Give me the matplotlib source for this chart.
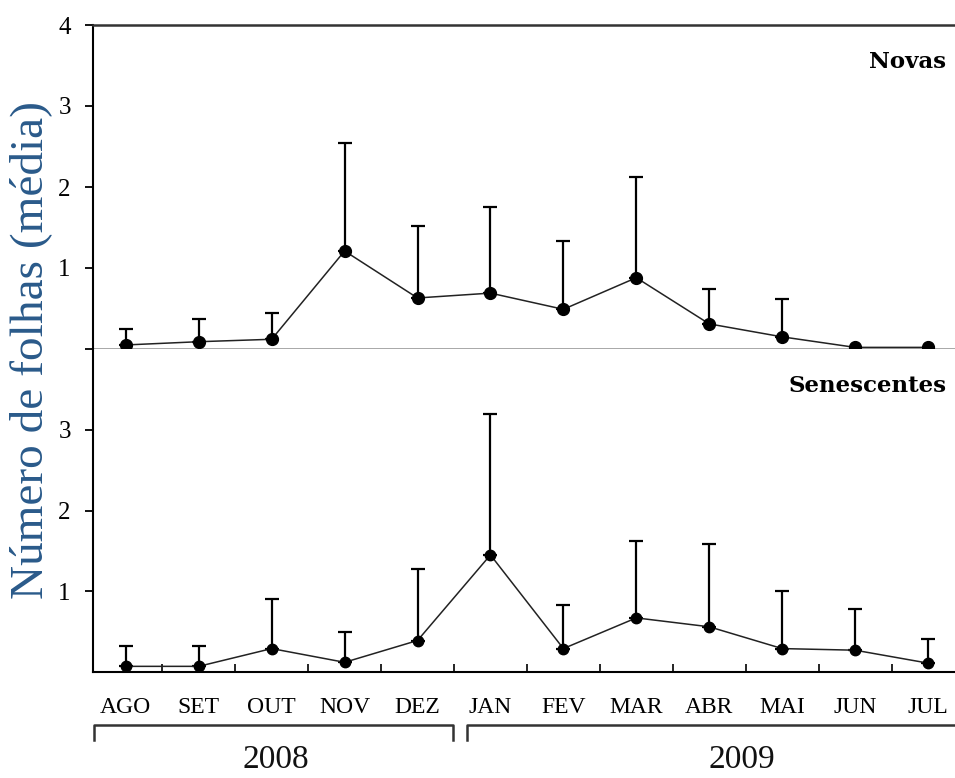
import matplotlib
matplotlib.use("Agg")
import matplotlib.pyplot as plt
import matplotlib.transforms as mtransforms
import numpy as np

months = ["AGO", "SET", "OUT", "NOV", "DEZ", "JAN", "FEV", "MAR", "ABR", "MAI", "JUN", "JUL"]
novas_mean = [0.05, 0.09, 0.12, 1.21, 0.63, 0.69, 0.49, 0.88, 0.31, 0.15, 0.02, 0.02]
novas_top = [0.25, 0.37, 0.44, 2.54, 1.52, 1.75, 1.33, 2.12, 0.74, 0.62, None, None]
sen_mean = [0.07, 0.07, 0.29, 0.12, 0.39, 1.45, 0.29, 0.67, 0.56, 0.29, 0.27, 0.11]
sen_top = [0.32, 0.32, 0.90, 0.49, 1.27, 3.20, 0.83, 1.62, 1.59, 1.00, 0.78, 0.41]
years = ["2008", "2009"]
ylabel = "Número de folhas (média)"

plt.rcParams['font.family'] = ['Liberation Serif', 'DejaVu Serif']

W, H = 955, 778
fig = plt.figure(figsize=(W / 100, H / 100), dpi=100)

left = 93 / W
width = 1 - left
ax1 = fig.add_axes([left, 1 - 349 / H, width, 324 / H])
ax2 = fig.add_axes([left, 1 - 672 / H, width, 323 / H])

x = np.arange(len(months))
xlim = (-0.45, 11.37)


def draw(ax, mean, top, ms):
    mean = np.array(mean, dtype=float)
    tops = np.array([np.nan if t is None else t for t in top], dtype=float)
    err = np.where(np.isnan(tops), 0, tops - mean)
    mask = ~np.isnan(tops)
    ax.errorbar(x[mask], mean[mask], yerr=[np.zeros(mask.sum()), err[mask]],
                fmt='none', ecolor='black', elinewidth=1.6, capsize=5,
                capthick=1.6, zorder=2)
    ax.plot(x, mean, color='#222222', lw=1.1, zorder=3)
    ax.plot(x, mean, 'o', color='black', ms=ms, zorder=4)
    ax.set_xlim(*xlim)
    ax.set_ylim(0, 4)


draw(ax1, novas_mean, novas_top, 8.5)
draw(ax2, sen_mean, sen_top, 7.5)

label_font = dict(family=['DejaVu Serif'], fontweight='bold', fontsize=16.5)

# Top panel styling
ax1.spines['right'].set_visible(False)
ax1.spines['top'].set_color('#333333')
ax1.spines['top'].set_linewidth(1.8)
ax1.spines['left'].set_linewidth(1.5)
ax1.spines['bottom'].set_color('#999999')
ax1.spines['bottom'].set_linewidth(1.2)
ax1.set_yticks([0, 1, 2, 3, 4])
ax1.set_yticklabels(["", "1", "2", "3", "4"])
ax1.set_xticks(x[:-1] + 0.5)
ax1.set_xticklabels([])
ax1.tick_params(axis='x', direction='out', length=6, width=1.2, color='#999999')
ax1.tick_params(axis='y', direction='out', length=6, width=1.3, labelsize=18, pad=10)
ax1.text(0.99, 0.885, "Novas", transform=ax1.transAxes, ha='right', va='center',
         **label_font)

# Bottom panel styling
ax2.spines['right'].set_visible(False)
ax2.spines['top'].set_visible(False)
ax2.spines['left'].set_linewidth(1.5)
ax2.spines['bottom'].set_linewidth(1.5)
ax2.set_yticks([1, 2, 3])
ax2.set_yticklabels(["1", "2", "3"])
ax2.set_xticks(x[:-1] + 0.5)
ax2.set_xticklabels([])
ax2.set_xticks(x, minor=True)
ax2.set_xticklabels(months, minor=True)
ax2.tick_params(axis='x', which='major', direction='in', length=6, width=1.2)
ax2.tick_params(axis='x', which='minor', length=0, labelsize=17, pad=18)
ax2.tick_params(axis='y', direction='out', length=6, width=1.3, labelsize=18, pad=10)
ax2.text(0.99, 0.885, "Senescentes", transform=ax2.transAxes, ha='right', va='center',
         **label_font)

# Year brackets (data x, figure y)
trans = mtransforms.blended_transform_factory(ax2.transData, fig.transFigure)
yb = 1 - 725 / H
yb2 = 1 - 740 / H
for (x0, x1, endr) in [(-0.43, 4.49, True), (4.68, 11.6, False)]:
    xs = [x0, x0, x1]
    ys = [yb2, yb, yb]
    if endr:
        xs = xs + [x1]
        ys = ys + [yb2]
    fig.add_artist(plt.Line2D(xs, ys, transform=trans, color='#333333', lw=1.8,
                              clip_on=False))

year_x = [2.05, 8.45]
for yx, yr in zip(year_x, years):
    fig.text(yx, 1 - 760 / H, yr, transform=trans, ha='center', va='center',
             fontsize=24, color='#111111')

fig.text(31 / W, 1 - 350 / H, ylabel, rotation=90, ha='center', va='center',
         fontsize=34, color='#2A5A8A')

fig.savefig("out.png", dpi=100)
